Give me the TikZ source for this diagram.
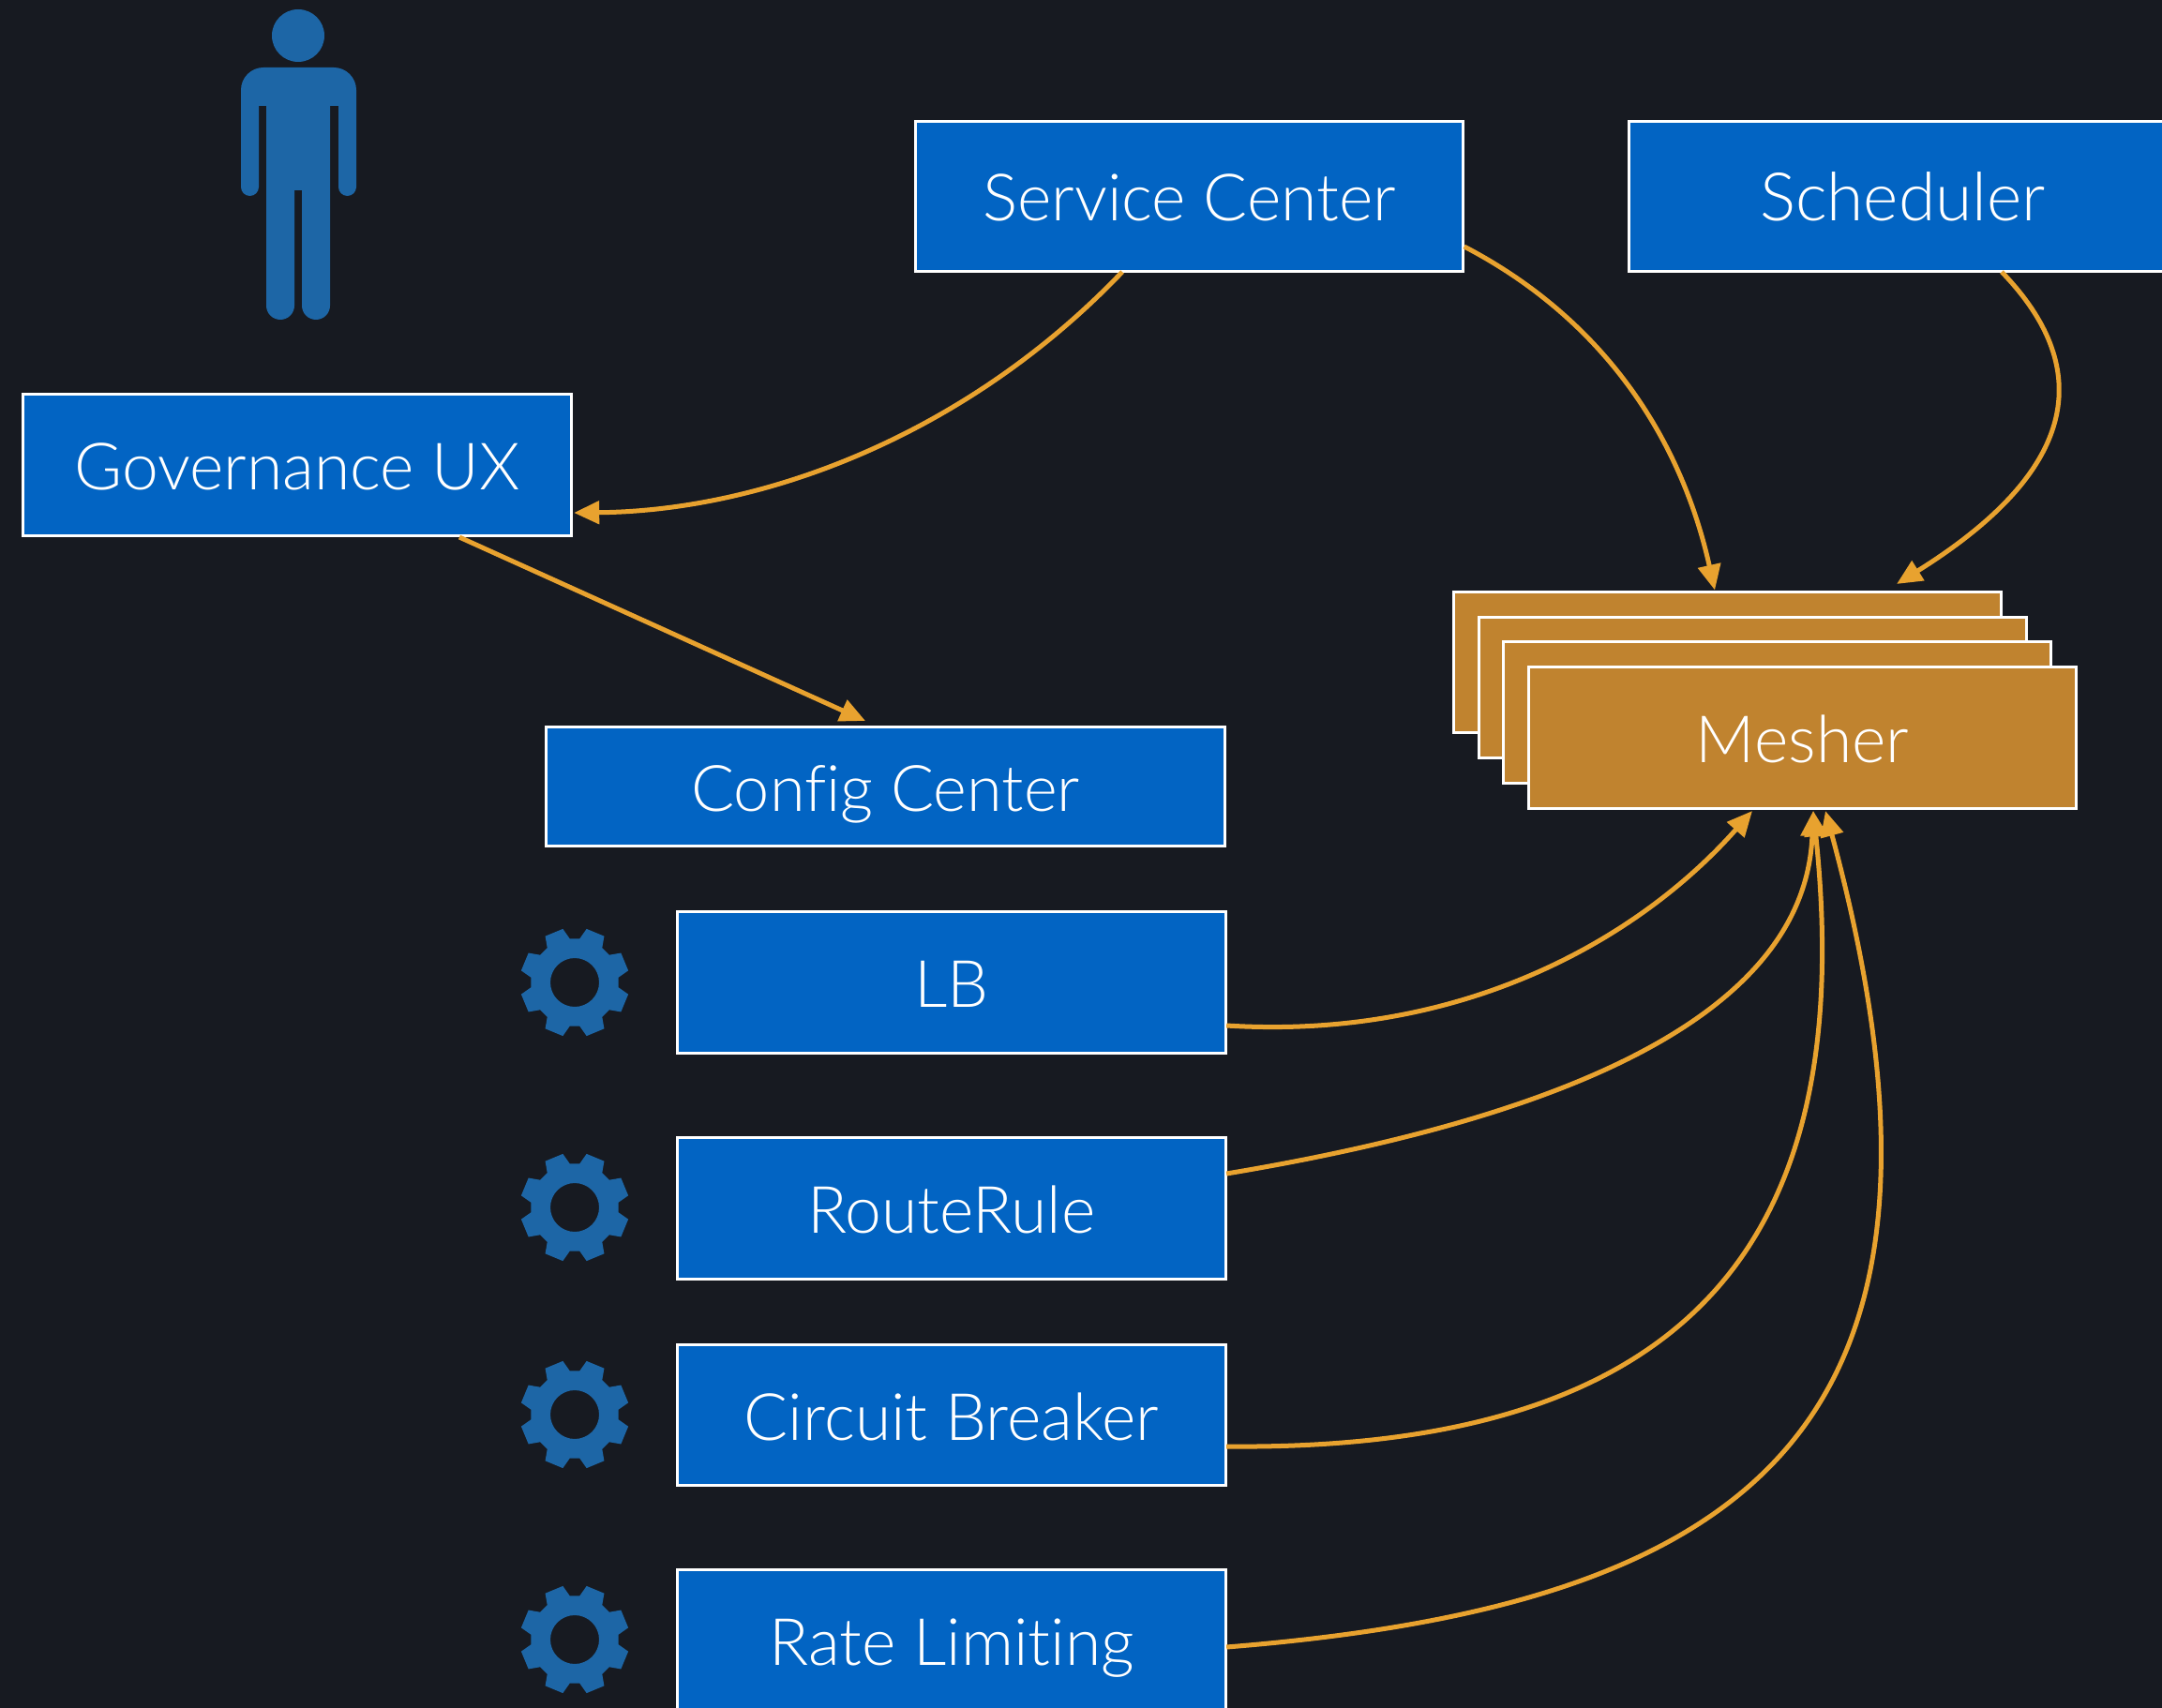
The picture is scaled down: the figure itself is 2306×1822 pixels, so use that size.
\documentclass[tikz,border=0pt]{standalone}
\usepackage{fontspec}
\setmainfont{Lato Light}[Ligatures=NoCommon]
\usetikzlibrary{arrows.meta,calc}
\definecolor{bgc}{HTML}{171A21}
\definecolor{boxblue}{HTML}{0264C3}
\definecolor{iconblue}{HTML}{1D66A6}
\definecolor{meshc}{HTML}{C0832F}
\definecolor{linkc}{HTML}{E8A22F}
\tikzset{
  box/.style={draw=white,line width=.03cm,fill=boxblue,text=white,minimum width=5.84cm,minimum height=1.5cm,inner sep=0pt,outer sep=0pt,font=\fontsize{19.8pt}{22pt}\selectfont,text height=.53cm,text depth=0pt,align=center},
  meshbox/.style={box,fill=meshc},
  link/.style={draw=linkc,line width=.05cm,-{Triangle[length=.27cm,width=.24cm]}},
  icon/.style={fill=iconblue},
  cog/.pic={
    \fill[icon,even odd rule]
      (22.5-16:47)
      \foreach \a in {22.5,67.5,...,337.5}{ -- (\a-16:47) -- (\a-10:58.5) -- (\a+10:58.5) -- (\a+16:47) }
      -- cycle (0,0) circle (26);
  }
}
\begin{document}
\begin{tikzpicture}[x=.01cm,y=-.01cm]
\useasboundingbox (0,0) rectangle (2306,1822);
\clip (0,0) rectangle (2306,1822);
\fill[bgc] (0,0) rectangle (2306,1822);
% person
\fill[icon] (318,38) circle (28);
\fill[icon] (276,113) -- (284,113) [rounded corners=.15cm] -- (284,341) -- (314,341) [sharp corners] -- (314,203) -- (322,203) [rounded corners=.15cm] -- (322,341) -- (352,341) [sharp corners] -- (352,113) -- (361,113) [rounded corners=.095cm] -- (361,209) -- (380,209) [rounded corners=.24cm] -- (380,72) -- (257,72) [rounded corners=.095cm] -- (257,209) -- (276,209) [sharp corners] -- cycle;
% gears
\pic at (613,1048) {cog};
\pic at (613,1288) {cog};
\pic at (613,1509) {cog};
\pic at (613,1749) {cog};
% boxes
\node[box] (sc) at (1268.5,209.5) [minimum height=1.59cm,text height=.51cm] {Service Center};
\node[box] (sched) at (2029.5,209.5) [minimum height=1.59cm,text height=.51cm,font=\fontsize{20.3pt}{22pt}\selectfont] {Scheduler};
\node[box] (gov) at (317,496) {Governance UX};
\node[box] (cfg) at (944.5,839) [minimum width=7.24cm,minimum height=1.26cm,font=\fontsize{19.45pt}{22pt}\selectfont] {Config Center};
\node[box] (lb) at (1015,1048) {LB};
\node[box] (rr) at (1015,1289) {RouteRule};
\node[box] (cb) at (1015,1509.5) {Circuit Breaker};
\node[box] (rl) at (1015,1750) {Rate Limiting};
\node[meshbox] (m1) at (1842.5,706.5) {};
\node[meshbox] (m2) at (1869.5,733.5) {};
\node[meshbox] (m3) at (1895.5,760) {};
\node[meshbox] (m4) at (1922.5,787) {Mesher};
% connectors
\draw[link] ($(sc.south)+(-71.5,1)$) .. controls (1035,460) and (820,545) .. ($(gov.east)+(3,51)$);
\draw[link] ($(sc.east)+(1,53.5)$) .. controls (1700,335) and (1790,455) .. ($(m1.north)+(-13.5,-2)$);
\draw[link] ($(sched.south)+(105.5,1)$) .. controls (2222,380) and (2236,490) .. ($(m1.north)+(180.5,-8.5)$);
\draw[link] ($(gov.south)+(173,2)$) -- ($(cfg.north)+(-21.5,-7)$);
\draw[link] ($(lb.east)+(1,46)$) .. controls (1560,1110) and (1749,1001) .. ($(m4.south)+(-53.5,3)$);
\draw[link] ($(rr.east)+(1,-37)$) .. controls (1650,1195) and (1925,1090) .. ($(m4.south)+(11.5,3)$);
\draw[link] ($(cb.east)+(1,33.5)$) .. controls (1807,1548) and (1982,1320) .. ($(m4.south)+(11.5,3)$);
\draw[link] ($(rl.east)+(1,7)$) .. controls (1867,1712) and (2126,1527) .. ($(m4.south)+(24.5,3)$);
\end{tikzpicture}
\end{document}
